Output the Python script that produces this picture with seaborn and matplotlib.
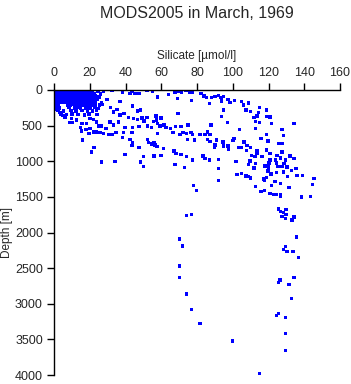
import matplotlib
matplotlib.use("Agg")
import matplotlib.pyplot as plt
import seaborn as sns
import pandas as pd

# (silicate [umol/l], depth [m]) pairs
surface_cluster = [
    (0.8, 15), (2.5, 12), (4.2, 18), (5.9, 10), (7.6, 16), (9.3, 12), (11.0, 18), (12.7, 14),
    (14.4, 10), (16.1, 17), (17.8, 12), (19.5, 15), (21.2, 20), (24.5, 14),
    (0.5, 50), (2.2, 55), (3.9, 48), (5.6, 52), (7.3, 46), (9.0, 55), (10.7, 50), (12.4, 47),
    (14.1, 53), (15.8, 49), (17.5, 55), (19.2, 50), (20.9, 45), (22.6, 52), (26.0, 58),
    (1.0, 90), (2.7, 86), (4.4, 92), (6.1, 88), (7.8, 95), (9.5, 85), (11.2, 90), (12.9, 94),
    (14.6, 87), (16.3, 92), (18.0, 88), (19.7, 95), (21.4, 90), (23.1, 85), (25.3, 96),
    (0.6, 130), (2.3, 126), (4.0, 134), (5.7, 128), (7.4, 132), (9.1, 125), (10.8, 131),
    (12.5, 136), (14.2, 128), (15.9, 133), (17.6, 126), (19.3, 130), (21.0, 135), (22.7, 128),
    (24.4, 132),
    (1.2, 170), (2.9, 174), (4.6, 166), (6.3, 172), (8.0, 168), (9.7, 175), (11.4, 170),
    (13.1, 166), (14.8, 173), (16.5, 169), (18.2, 176), (19.9, 170), (21.6, 165), (23.3, 172),
    (26.5, 178),
    (0.9, 210), (2.6, 215), (7.5, 208), (9.2, 214), (10.9, 206), (12.6, 212), (14.3, 217),
    (16.0, 209), (17.7, 213), (19.4, 205), (21.1, 211), (22.8, 216), (25.5, 208),
    (1.5, 250), (3.2, 256), (8.3, 248), (11.5, 253), (13.2, 246), (14.9, 257), (17.9, 250),
    (20.2, 255), (23.0, 247), (24.8, 258),
    (2.1, 290), (5.2, 296), (9.6, 288), (12.3, 294), (15.6, 286), (18.8, 292), (21.5, 298),
    (23.7, 289),
    (4.0, 340), (7.0, 346), (10.2, 336), (13.5, 342), (17.0, 348), (19.5, 338), (24.0, 344),
]

upper_scatter = [
    (27.6, 18), (32.3, 10), (38.4, 28), (43.5, 18), (45.3, 46), (47.7, 46), (51.9, 10),
    (42.5, 46), (29.8, 131), (36.9, 159), (27.2, 201), (31.7, 243), (35.1, 271), (43.8, 225),
    (46.6, 295), (48.5, 281), (33.2, 309), (36.9, 351), (39.2, 327), (41.6, 389), (44.4, 403),
    (46.6, 412), (49.1, 393), (50.3, 435), (51.9, 389), (52.4, 505), (47.7, 515), (44.0, 529),
    (39.7, 529), (43.5, 599), (38.8, 599), (34.7, 599), (32.3, 622), (30.4, 622), (27.6, 608),
    (25.7, 599), (23.9, 590), (22.0, 590), (26.7, 505), (24.8, 505), (29.1, 543), (33.2, 495),
    (36.0, 449), (31.3, 449), (38.4, 669), (42.5, 692), (43.8, 739), (43.5, 777), (47.7, 810),
    (50.0, 936), (48.5, 1011), (52.4, 692), (52.8, 739), (39.7, 903), (26.7, 1011),
    (34.1, 1006), (50.0, 1076), (56.5, 772), (61.2, 819),
    (22.4, 810), (21.1, 870), (16.0, 702), (19.7, 608), (20.1, 543), (17.9, 552), (15.5, 575),
    (14.9, 529), (18.3, 468), (15.7, 468), (10.4, 459), (9.0, 459), (12.7, 421), (6.2, 389),
    (4.9, 355), (3.4, 318), (1.1, 271), (9.9, 403), (22.0, 412), (23.9, 449), (20.1, 403),
]

middle_scatter = [
    (55.2, 18), (64.0, 60), (57.8, 98), (67.7, 28), (69.8, 18), (71.4, 32), (73.8, 10),
    (75.7, 28), (77.2, 32), (69.0, 122), (76.8, 145), (82.1, 46), (83.9, 84), (85.4, 108),
    (88.2, 108), (90.1, 94), (91.9, 74), (93.3, 108), (94.7, 94), (86.9, 187), (93.8, 154),
    (97.2, 131), (98.5, 178), (100.9, 150), (105.0, 164), (105.9, 211), (108.7, 182),
    (107.4, 281), (94.7, 281), (93.6, 369), (97.0, 459), (103.7, 552), (87.8, 495), (69.4, 333),
    (57.1, 365), (55.6, 440), (57.4, 421), (59.9, 393), (57.8, 468), (54.6, 524), (59.3, 505),
    (61.5, 491), (62.7, 529), (65.3, 543), (68.1, 515), (71.0, 515), (75.0, 495), (66.7, 599),
    (70.5, 622), (72.3, 599), (74.2, 613), (76.5, 599), (77.6, 622), (57.8, 613), (74.6, 692),
    (78.7, 702), (81.7, 622), (85.8, 590), (87.3, 627), (84.5, 622), (85.8, 692), (87.3, 720),
    (91.0, 702), (90.1, 772), (89.7, 810), (94.4, 730), (94.7, 786), (97.3, 786), (97.5, 833),
    (100.0, 706), (100.7, 683), (103.1, 810), (105.0, 810), (106.3, 730), (108.1, 777),
    (107.8, 852), (55.9, 739), (54.7, 758), (57.5, 796), (55.9, 926), (60.0, 917), (67.1, 856),
    (68.3, 894), (70.9, 903), (74.2, 936), (77.6, 982), (83.5, 926), (84.5, 964), (86.9, 982),
    (91.9, 973), (67.7, 1043), (72.9, 1085), (91.9, 1099), (101.8, 1001), (108.9, 1043),
    (102.5, 1184), (105.0, 1170), (107.4, 1207), (108.9, 1217),
]

right_scatter = [
    (114.9, 243), (118.8, 281), (110.0, 304), (114.5, 318), (111.9, 383), (113.6, 365),
    (119.0, 369), (120.7, 379), (112.6, 445), (114.9, 459), (121.6, 467), (134.4, 467),
    (112.6, 543), (127.6, 552), (119.0, 627), (128.5, 641), (115.8, 678), (119.6, 716),
    (125.7, 748), (127.7, 748), (110.0, 805), (113.7, 847), (118.8, 842), (113.7, 884),
    (127.6, 870), (120.8, 889), (110.6, 917), (112.4, 936), (116.5, 931), (124.8, 922),
    (131.9, 926), (126.8, 954), (134.4, 964), (120.8, 982), (124.0, 982), (129.6, 982),
    (109.7, 996), (112.6, 1034), (120.4, 1025), (124.6, 1025), (128.8, 1029), (118.0, 1067),
    (120.1, 1081), (125.3, 1076), (127.7, 1076), (130.3, 1081), (135.4, 1099), (112.0, 1095),
    (119.7, 1137), (124.4, 1160), (128.5, 1151), (132.8, 1127), (121.4, 1179), (117.5, 1249),
    (110.0, 1235), (118.8, 1226), (130.7, 1212), (135.8, 1198), (138.9, 1198), (145.6, 1240),
]

deep_scatter = [
    (70.1, 2095), (71.8, 2190), (70.1, 2470), (70.1, 2630), (74.0, 2863), (76.8, 3083),
    (81.7, 3275), (99.8, 3523), (114.9, 3977),
    (133.0, 1825), (135.6, 2063), (129.4, 2199), (128.5, 2236), (130.5, 2269), (133.7, 2269),
    (136.7, 2348), (134.4, 2630), (126.4, 2667), (125.5, 2700), (131.6, 2728), (132.8, 2924),
    (125.5, 3135), (124.6, 3163), (129.6, 3191), (129.4, 3416), (129.6, 3654),
    (91.9, 1273), (78.0, 1338), (79.8, 1408), (74.0, 1759), (76.8, 1745),
    (112.6, 1352), (117.7, 1263), (123.6, 1282), (121.6, 1343), (126.6, 1310), (131.6, 1366),
    (144.5, 1324), (115.8, 1427), (117.7, 1408), (120.8, 1450), (122.7, 1469), (124.5, 1469),
    (126.8, 1469), (126.8, 1488), (138.4, 1502), (143.4, 1492), (125.7, 1670), (126.8, 1703),
    (128.5, 1717), (129.8, 1675), (129.8, 1745), (127.7, 1773), (129.4, 1806), (134.4, 1782),
    (132.8, 1815),
]

x_ticks = [0, 20, 40, 60, 80, 100, 120, 140, 160]
y_ticks = [0, 500, 1000, 1500, 2000, 2500, 3000, 3500, 4000]

df = pd.DataFrame(
    surface_cluster + upper_scatter + middle_scatter + right_scatter + deep_scatter,
    columns=["silicate", "depth"],
)

sns.set_style("white")
plt.rcParams["font.family"] = ["Liberation Sans", "DejaVu Sans"]

fig = plt.figure(figsize=(3.51, 3.84), dpi=100)
ax = fig.add_axes([54 / 351, 1 - 375 / 384, 286 / 351, 285 / 384])

sns.scatterplot(data=df, x="silicate", y="depth", ax=ax, marker="s", s=6.5,
                color="#0000ff", linewidth=0, edgecolor="none")

ax.set_xlim(0, 160)
ax.set_ylim(4000, 0)
ax.set_xticks(x_ticks)
ax.set_yticks(y_ticks)
ax.xaxis.tick_top()
ax.xaxis.set_label_position("top")
ax.set_xlabel("Silicate [\u00b5mol/l]", fontsize=8.5, labelpad=6)
ax.set_ylabel("Depth [m]", fontsize=8.5)
ax.yaxis.set_label_coords(-0.145, 0.5)
ax.tick_params(axis="both", direction="out", length=5, width=1, labelsize=9,
               color="black", pad=3)
ax.tick_params(axis="x", top=True, bottom=False)
ax.tick_params(axis="y", left=True)
for side in ["right", "bottom"]:
    ax.spines[side].set_visible(False)
for side in ["left", "top"]:
    ax.spines[side].set_visible(True)
    ax.spines[side].set_color("black")
    ax.spines[side].set_linewidth(1)
ax.grid(False)

fig.text(197 / 351, 1 - 13 / 384, "MODS2005 in March, 1969", ha="center", va="center",
         fontsize=11.5)

fig.savefig("out.png", dpi=100)
